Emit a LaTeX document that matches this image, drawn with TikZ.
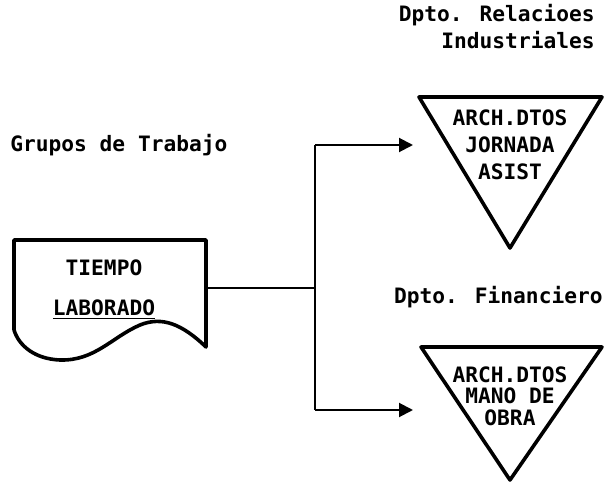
\documentclass[tikz,border=0pt]{standalone}
\usepackage{fontspec}
\setmainfont{DejaVu Sans Mono}
\usepackage{tikz}
\usetikzlibrary{calc}
\usetikzlibrary{arrows.meta}
\tikzset{txt/.style={font=\bfseries\fontsize{10.6}{13.5}\selectfont, inner sep=0, align=center}}
\tikzset{borde/.style={black, line width=1.8pt, line join=round}}
\tikzset{linea/.style={black, line width=1pt}}

\begin{document}
\begin{tikzpicture} [x=.5pt, y=-.5pt]
\useasboundingbox (0,0) rectangle (612,487);
% documento
\draw[borde] (14,330) -- (14,240) -- (206,240) -- (206,347) .. controls (182,324) and (162,316) .. (140,325) .. controls (112,337) and (95,361) .. (60,360) .. controls (35,359) and (19,346) .. (14,330);
\node[txt, font=\bfseries\fontsize{10.6}{20}\selectfont] (tiempo) at (104,290) {TIEMPO\\\underline{LABORADO}};
\node[txt, anchor=west] (grupos) at (10,145) {Grupos de Trabajo};
% archivos
\draw[borde] (419,97) -- (602,97) -- (510,248) -- cycle;
\node[txt] (jornada) at (510,145) {ARCH.DTOS\\JORNADA\\ASIST};
\node[txt, align=right, anchor=east] (relind) at (595,27) {Dpto. Relacioes\\Industriales};
\draw[borde] (421,347) -- (602,347) -- (510,480) -- cycle;
\node[txt, font=\bfseries\fontsize{10.6}{10.8}\selectfont] (manoobra) at (510,396) {ARCH.DTOS\\MANO DE\\OBRA};
\node[txt, anchor=east] (financiero) at (603,297) {Dpto. Financiero};
% conexiones
\coordinate (docder) at (206,288);
\coordinate (bif) at (315,288);
\coordinate (bifa) at (315,145);
\coordinate (bifb) at (315,410);
\coordinate (llegaa) at (413,145);
\coordinate (llegab) at (413,410);
\draw[linea] (docder) -- (bif);
\draw[linea] (bifa) -- (bifb);
\draw[linea, -{Triangle[length=7pt,width=7pt]}] (bifa) -- (llegaa);
\draw[linea, -{Triangle[length=7pt,width=7pt]}] (bifb) -- (llegab);
\end{tikzpicture}
\end{document}
